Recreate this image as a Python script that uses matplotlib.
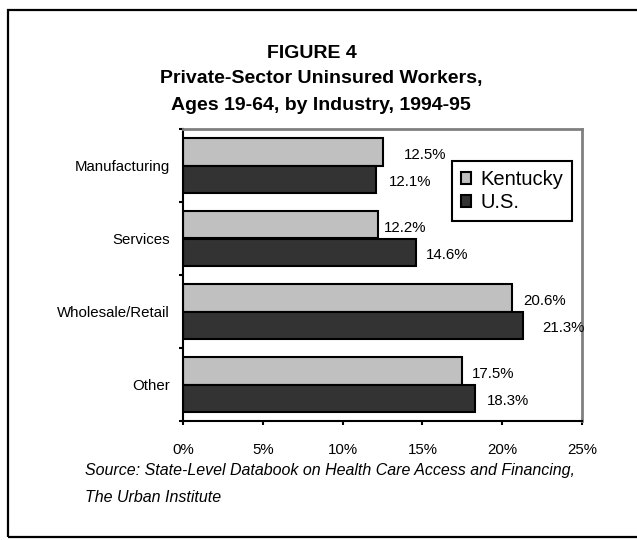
import matplotlib
matplotlib.use("Agg")
import matplotlib.pyplot as plt
from matplotlib.patches import Rectangle
import numpy as np

plt.rcParams["font.family"] = ["Liberation Sans", "DejaVu Sans"]

# Uninsured share of private-sector workers, ages 19-64 (percent)
industries = ["Manufacturing", "Services", "Wholesale/Retail", "Other"]
kentucky = [12.5, 12.2, 20.6, 17.5]
us = [12.1, 14.6, 21.3, 18.3]
series_names = ["Kentucky", "U.S."]
x_ticks = [0, 5, 10, 15, 20, 25]

W, H = 637, 540
fig = plt.figure(figsize=(W / 100, H / 100), dpi=100)

# page box around the figure
fig.patches.append(Rectangle((8 / W, 1 - 537 / H), 1.0, 527 / H,
                             transform=fig.transFigure, fill=False,
                             edgecolor="black", linewidth=1.6))

ax = fig.add_axes([183 / W, 1 - 421 / H, (582 - 183) / W, (421 - 129) / H])

pos = np.arange(len(industries))
bh = 0.38
bars_ky = ax.barh(pos - bh / 2, kentucky, height=bh, color="#c0c0c0",
                  edgecolor="black", linewidth=1.5, label=series_names[0])
bars_us = ax.barh(pos + bh / 2, us, height=bh, color="#333333",
                  edgecolor="black", linewidth=1.5, label=series_names[1])

# Excel-style value labels, nudged right of the bar ends (pixels)
nudge_ky = [21, 6, 11, 10]
nudge_us = [13, 10, 19, 12]
for bars, vals, nudge in [(bars_ky, kentucky, nudge_ky), (bars_us, us, nudge_us)]:
    for b, v, n in zip(bars, vals, nudge):
        ax.annotate(f"{v:.1f}%", (v, b.get_y() + b.get_height() / 2),
                    xytext=(n, -3), textcoords="offset pixels",
                    ha="left", va="center", fontsize=10.8)

ax.set_xlim(0, 25)
ax.set_ylim(len(industries) - 0.5, -0.5)
ax.set_xticks(x_ticks)
ax.set_xticklabels([f"{t}%" for t in x_ticks], fontsize=10.8)
ax.tick_params(axis="x", direction="out", length=3, width=1.5, pad=12.5)

# ticks between categories, names at the centres
ax.set_yticks(np.arange(-0.5, len(industries), 1.0))
ax.set_yticklabels([])
ax.tick_params(axis="y", which="major", direction="out", length=3, width=1.5)
ax.set_yticks(pos, minor=True)
ax.set_yticklabels(industries, minor=True, fontsize=10.8)
ax.tick_params(axis="y", which="minor", length=0, pad=9.4)

for side in ["left", "bottom"]:
    ax.spines[side].set_linewidth(1.5)
    ax.spines[side].set_color("black")
for side in ["top", "right"]:
    ax.spines[side].set_linewidth(2)
    ax.spines[side].set_color("#808080")

leg = ax.legend(loc="upper left", bbox_to_anchor=(452 / W, 1 - 161 / H),
                bbox_transform=fig.transFigure, borderaxespad=0,
                fontsize=14.5, frameon=True, fancybox=False, edgecolor="black",
                framealpha=1, handlelength=0.5, handleheight=0.5,
                handletextpad=0.45, labelspacing=0.2, borderpad=0.45)
leg.get_frame().set_linewidth(1.5)

title_kw = dict(ha="center", va="center", fontsize=14, fontweight="bold")
fig.text(312 / W, 1 - 53 / H, "FIGURE 4", **title_kw)
fig.text(321 / W, 1 - 79 / H, "Private-Sector Uninsured Workers,", **title_kw)
fig.text(321 / W, 1 - 105 / H, "Ages 19-64, by Industry, 1994-95", **title_kw)

src_kw = dict(ha="left", va="center", fontsize=11.5, style="italic")
fig.text(85 / W, 1 - 471 / H,
         "Source: State-Level Databook on Health Care Access and Financing,",
         **src_kw)
fig.text(85 / W, 1 - 497 / H, "The Urban Institute", **src_kw)

fig.savefig("out.png", dpi=100)
